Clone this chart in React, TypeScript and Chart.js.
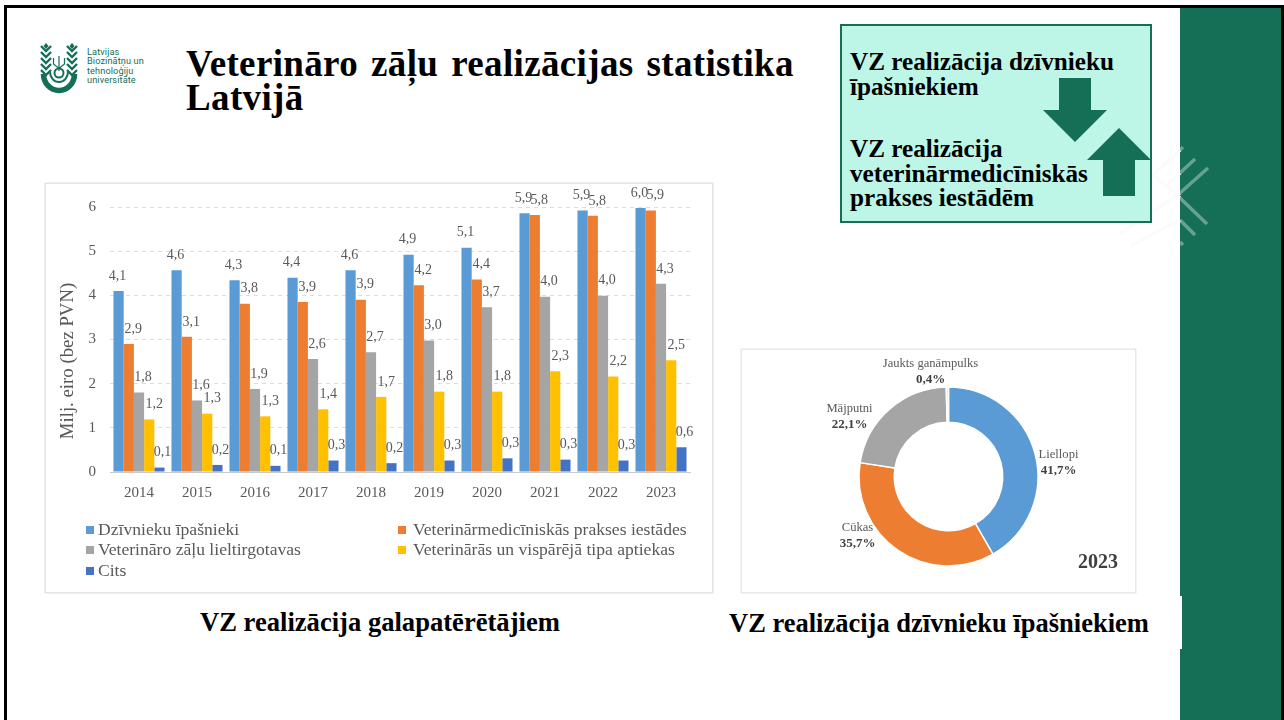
import React, { useEffect, useRef } from "react";
import { Chart, registerables } from "chart.js";

Chart.register(...registerables);

const years = ["2014", "2015", "2016", "2017", "2018", "2019", "2020", "2021", "2022", "2023"];
const seriesNames = [
  "Dzīvnieku īpašnieki",
  "Veterinārmedicīniskās prakses iestādes",
  "Veterināro zāļu lieltirgotavas",
  "Veterinārās un vispārējā tipa aptiekas",
  "Cits",
];
const owners = [4.1, 4.57, 4.34, 4.4, 4.57, 4.92, 5.08, 5.86, 5.92, 5.98];
const practices = [2.9, 3.06, 3.81, 3.85, 3.9, 4.23, 4.36, 5.82, 5.8, 5.92];
const wholesalers = [1.8, 1.62, 1.88, 2.56, 2.71, 2.98, 3.73, 3.97, 3.99, 4.26];
const pharmacies = [1.19, 1.32, 1.26, 1.42, 1.7, 1.82, 1.82, 2.28, 2.16, 2.53];
const other = [0.1, 0.16, 0.14, 0.26, 0.2, 0.26, 0.31, 0.28, 0.26, 0.56];
const seriesColors = ["#5B9BD5", "#ED7D31", "#A5A5A5", "#FFC000", "#4472C4"];
const yTicks = [0, 1, 2, 3, 4, 5, 6];
const yAxisTitle = "Milj. eiro (bez PVN)";

const speciesNames = ["Liellopi", "Cūkas", "Mājputni", "Jaukts ganāmpulks"];
const speciesShares = [41.7, 35.7, 22.1, 0.4];
const speciesColors = ["#5B9BD5", "#ED7D31", "#A5A5A5", "#FFE699"];
const donutYear = "2023";

const SERIF = "'Liberation Serif', serif";
const GREEN = "#146F56";
const TEXT = "#595959";
const comma = (v: number, d = 1) => v.toFixed(d).replace(".", ",");

const barExtras = {
  id: "barExtras",
  afterDatasetsDraw(chart: any) {
    const { ctx } = chart;
    const shift = [-1, 4.5, 4, 5, 3];
    ctx.save();
    ctx.font = `14px ${SERIF}`;
    ctx.fillStyle = TEXT;
    ctx.textAlign = "center";
    ctx.textBaseline = "middle";
    chart.data.datasets.forEach((ds: any, i: number) => {
      chart.getDatasetMeta(i).data.forEach((bar: any, j: number) => {
        ctx.fillText(comma(ds.data[j]), bar.x + shift[i], bar.y - 15);
      });
    });
    // axis title, centred below the middle of the axis as in the reference
    ctx.save();
    ctx.translate(22, 177);
    ctx.rotate(-Math.PI / 2);
    ctx.font = `18.8px ${SERIF}`;
    ctx.fillStyle = TEXT;
    ctx.fillText(yAxisTitle, 0, 0);
    ctx.restore();
    // legend
    const cols = [40, 352];
    const textOffset = [12, 15];
    const rows = [346, 366, 387];
    const slots = [[0, 0], [1, 0], [0, 1], [1, 1], [0, 2]];
    ctx.font = `17.6px ${SERIF}`;
    ctx.textAlign = "left";
    chart.data.datasets.forEach((ds: any, i: number) => {
      const c = slots[i][0];
      const x = cols[c];
      const y = rows[slots[i][1]];
      ctx.fillStyle = ds.backgroundColor;
      ctx.fillRect(x, y - 4, 8, 8);
      ctx.fillStyle = TEXT;
      ctx.fillText(ds.label, x + textOffset[c], y);
    });
    ctx.restore();
  },
};

const donutExtras = {
  id: "donutExtras",
  afterDatasetsDraw(chart: any) {
    const { ctx } = chart;
    const arc = chart.getDatasetMeta(0).data[0];
    const anchors = [[110, -14], [-91, 59], [-99, -60], [-18, -105]];
    ctx.save();
    ctx.textAlign = "center";
    ctx.textBaseline = "middle";
    const values = chart.data.datasets[0].data;
    chart.data.labels.forEach((name: string, i: number) => {
      const x = arc.x + anchors[i][0];
      const y = arc.y + anchors[i][1];
      ctx.font = `12.6px ${SERIF}`;
      ctx.fillStyle = TEXT;
      ctx.fillText(name, x, y - 8);
      ctx.font = `bold 13px ${SERIF}`;
      ctx.fillStyle = "#404040";
      ctx.fillText(`${comma(values[i])}%`, x, y + 8);
    });
    ctx.font = `bold 20px ${SERIF}`;
    ctx.fillStyle = "#404040";
    ctx.fillText(donutYear, 356, 213);
    ctx.restore();
  },
};

function Logo() {
  const ear = (x: number) => {
    const parts = [];
    for (let i = 0; i < 5; i++) {
      const y = 50 + i * 6;
      parts.push(
        <path key={i} d={`M${x - 5} ${y - 4} L${x} ${y + 1} L${x + 5} ${y - 4}`} fill="none" stroke={GREEN} strokeWidth="2.4" />
      );
    }
    return parts;
  };
  return (
    <svg width="50" height="60" viewBox="36 38 50 60" style={{ position: "absolute", left: 36, top: 38 }}>
      {ear(46)}
      {ear(72)}
      <path d="M46 43 l-2.5 3 2.5 3 2.5 -3z M72 43 l-2.5 3 2.5 3 2.5 -3z" fill={GREEN} />
      <path d="M43.5 74 a15.5 16.5 0 0 0 31 0" fill="none" stroke={GREEN} strokeWidth="5.5" />
      <path d="M50 72 a9 10 0 0 0 18 0" fill="none" stroke={GREEN} strokeWidth="2" />
      <circle cx="59" cy="73" r="4.5" fill="none" stroke={GREEN} strokeWidth="2" />
      <path d="M59 56 V71 M53.5 58 v6 l5 4 M64.5 58 v6 l-5 4" fill="none" stroke={GREEN} strokeWidth="1.2" />
    </svg>
  );
}

function Decor() {
  const bright = [
    [1180, 193, 1208, 168],
    [1180, 173, 1195, 159],
    [1180, 150, 1183, 147],
    [1180, 198, 1207, 224],
    [1180, 220, 1195, 235],
    [1180, 242, 1183, 245],
  ];
  const faint = [
    [1180, 193, 1120, 234],
    [1180, 220, 1130, 246],
    [1180, 150, 1153, 175],
    [1153, 175, 1180, 198],
    [1180, 173, 1167, 185],
  ];
  const line = (l: number[], i: number, stroke: string) => (
    <line key={i} x1={l[0]} y1={l[1]} x2={l[2]} y2={l[3]} stroke={stroke} strokeWidth="3.5" />
  );
  return (
    <svg width="1284" height="720" style={{ position: "absolute", left: 0, top: 0 }}>
      {faint.map((l, i) => line(l, i, "#FAFBFA"))}
      {bright.map((l, i) => line(l, i, "rgba(255,255,255,0.35)"))}
    </svg>
  );
}

const txt = (extra: React.CSSProperties): React.CSSProperties => ({
  position: "absolute",
  fontFamily: SERIF,
  fontWeight: "bold",
  color: "#000",
  whiteSpace: "nowrap",
  ...extra,
});

export default function App() {
  const barRef = useRef<HTMLCanvasElement>(null);
  const donutRef = useRef<HTMLCanvasElement>(null);

  useEffect(() => {
    const arrays = [owners, practices, wholesalers, pharmacies, other];
    const bar = new Chart(barRef.current as HTMLCanvasElement, {
      type: "bar",
      data: {
        labels: years,
        datasets: seriesNames.map((label, i) => ({
          label,
          data: arrays[i],
          backgroundColor: seriesColors[i],
          categoryPercentage: 0.88,
          barPercentage: 1,
        })),
      },
      plugins: [barExtras],
      options: {
        responsive: false,
        animation: false,
        devicePixelRatio: 1,
        layout: { padding: { top: 20, right: 22, left: 0, bottom: 0 } },
        plugins: { legend: { display: false }, tooltip: { enabled: false }, title: { display: false } },
        scales: {
          x: {
            grid: { display: false },
            border: { display: true, color: "#C9C9C9", width: 1 },
            ticks: { color: TEXT, font: { family: SERIF, size: 15 }, padding: 4, maxRotation: 0 },
            afterFit: (s: any) => { s.height = 120; },
          },
          y: {
            min: 0,
            max: 6,
            afterBuildTicks: (s: any) => { s.ticks = yTicks.map((value) => ({ value })); },
            grid: { color: "#DCDCDC", drawTicks: false },
            border: { display: false, dash: [4, 4] },
            ticks: { color: TEXT, font: { family: SERIF, size: 15 }, padding: 14 },
            afterFit: (s: any) => { s.width = 64; },
          },
        },
      },
    } as any);

    const donut = new Chart(donutRef.current as HTMLCanvasElement, {
      type: "doughnut",
      data: {
        labels: speciesNames,
        datasets: [{
          data: speciesShares,
          backgroundColor: speciesColors,
          borderColor: "#FFFFFF",
          borderWidth: 1.5,
          radius: 89.5,
          cutout: 53.8,
        }],
      },
      plugins: [donutExtras],
      options: {
        responsive: false,
        animation: false,
        devicePixelRatio: 1,
        layout: { padding: { left: 117, right: 97, top: 37, bottom: 26 } },
        plugins: { legend: { display: false }, tooltip: { enabled: false } },
      },
    } as any);

    return () => {
      bar.destroy();
      donut.destroy();
    };
  }, []);

  return (
    <div style={{ position: "absolute", left: 0, top: 0, width: 1284, height: 720, overflow: "hidden", background: "#fff" }}>
      <div style={{ position: "absolute", left: 1180, top: 7, width: 101, height: 713, background: GREEN }} />
      <div style={{ position: "absolute", left: 1180, top: 596, width: 1.5, height: 53, background: "#fff" }} />
      <div style={{ position: "absolute", left: 4, top: 5, width: 1280, height: 3, background: "#000" }} />
      <div style={{ position: "absolute", left: 4, top: 5, width: 3, height: 715, background: "#000" }} />
      <div style={{ position: "absolute", left: 1281, top: 5, width: 3, height: 715, background: "#000" }} />
      <Decor />

      <Logo />
      <div style={{ position: "absolute", left: 87, top: 47, fontFamily: "Roboto, sans-serif", fontSize: 9.2, lineHeight: "9.4px", color: GREEN, letterSpacing: 0.1, whiteSpace: "nowrap" }}>
        Latvijas<br />Biozinātņu un<br />tehnoloģiju<br />universitāte
      </div>

      <div style={txt({ left: 186, top: 47, fontSize: 37, lineHeight: "34px", wordSpacing: 3.4, letterSpacing: 0.35 })}>
        Veterināro zāļu realizācijas statistika<br />Latvijā
      </div>

      <div style={{ position: "absolute", left: 840, top: 24, width: 308, height: 195, background: "#BDF5E6", border: `2px solid ${GREEN}` }} />
      <div style={txt({ left: 850, top: 49, fontSize: 25.2, lineHeight: "25px" })}>
        VZ realizācija dzīvnieku<br />īpašniekiem
      </div>
      <div style={txt({ left: 850, top: 137, fontSize: 25.2, lineHeight: "24.5px" })}>
        VZ realizācija<br />veterinārmedicīniskās<br />prakses iestādēm
      </div>
      <svg width="1284" height="720" style={{ position: "absolute", left: 0, top: 0 }}>
        <polygon points="1059,78 1091,78 1091,110 1107,110 1075,142 1043,110 1059,110" fill={GREEN} />
        <polygon points="1103,196 1135,196 1135,160 1151,160 1119,128 1087,160 1103,160" fill={GREEN} />
      </svg>

      <div style={{ position: "absolute", left: 46, top: 184, width: 666, height: 408, background: "#fff", boxShadow: "0 0 0 1.5px #E4E4E4" }}>
        <canvas ref={barRef} width={666} height={408} style={{ display: "block", filter: "blur(0.45px)" }} />
      </div>
      <div style={{ position: "absolute", left: 742, top: 350, width: 393, height: 242, background: "#fff", boxShadow: "0 0 0 1.5px #E8E8E8" }}>
        <canvas ref={donutRef} width={393} height={242} style={{ display: "block", filter: "blur(0.45px)" }} />
      </div>

      <div style={txt({ left: 200, top: 607, fontSize: 26.6, lineHeight: "30px" })}>VZ realizācija galapatērētājiem</div>
      <div style={txt({ left: 729, top: 608, fontSize: 26.5, lineHeight: "30px" })}>VZ realizācija dzīvnieku īpašniekiem</div>
    </div>
  );
}
